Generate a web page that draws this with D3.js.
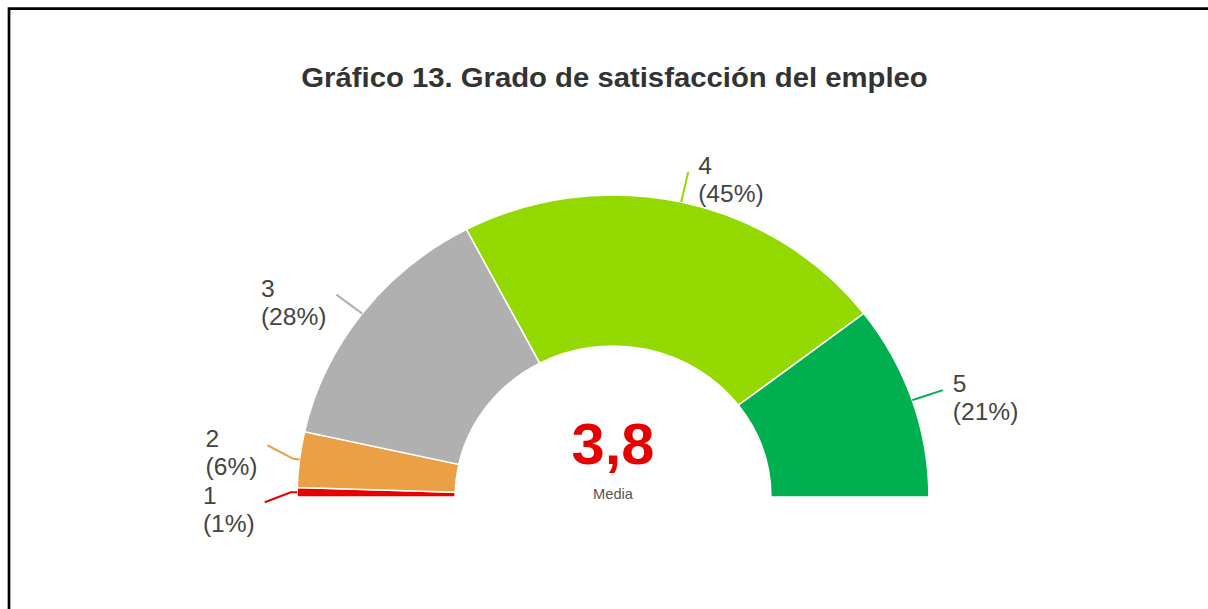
<!DOCTYPE html>
<html>
<head>
<meta charset="utf-8">
<script src="https://cdn.jsdelivr.net/npm/d3@7"></script>
<style>
  html, body { margin: 0; padding: 0; background: #fff; }
  svg { display: block; }
  text { font-family: "Liberation Sans", Arial, sans-serif; }
</style>
</head>
<body>
<svg id="chart" width="1208" height="609"></svg>
<script>
// ---- data ----
const title = "Gráfico 13. Grado de satisfacción del empleo";
const categories = ["1", "2", "3", "4", "5"];
const values = [1, 6, 28, 45, 21];
const meanValue = "3,8";
const meanLabel = "Media";
const colors = ["#e60000", "#eba046", "#b0b0b0", "#93d900", "#00b050"];

// ---- layout ----
const W = 1208, H = 609;
const cx = 613, cy = 497;
const stretchX = 1.046;
const R = 302, r = 151;

const svg = d3.select("#chart");

// frame (top and left rules)
svg.append("path")
  .attr("d", `M9,${H} V8.7 H${W}`)
  .attr("fill", "none")
  .attr("stroke", "#000")
  .attr("stroke-width", 2.7);

const g = svg.append("g")
  .attr("transform", `translate(${cx},${cy}) scale(${stretchX},1)`);

// title
g.append("text")
  .attr("x", 1.5 / stretchX)
  .attr("y", 87 - cy)
  .attr("text-anchor", "middle")
  .attr("font-size", 28)
  .attr("font-weight", "bold")
  .attr("fill", "#333")
  .text(title);

const total = d3.sum(values);
const pie = d3.pie().sort(null).value(d => d.v)
  .startAngle(-Math.PI / 2).endAngle(Math.PI / 2);
const arc = d3.arc().innerRadius(r).outerRadius(R);
const data = pie(categories.map((c, i) => ({ c, v: values[i], color: colors[i] })));

g.selectAll("path.slice")
  .data(data)
  .join("path")
  .attr("class", "slice")
  .attr("d", arc)
  .attr("fill", d => d.data.color)
  .attr("stroke", "#fff")
  .attr("stroke-width", 1.5)
  .attr("vector-effect", "non-scaling-stroke");

// labels
const pt = (rad, a) => [rad * Math.sin(a), -rad * Math.cos(a)];
const labels = data.map(d => {
  const a = (d.startAngle + d.endAngle) / 2;
  const end = pt(R + 31, a);
  return {
    d, a,
    side: Math.sin(a) < 0 ? "left" : "right",
    p0: pt(R, a), p1: pt(R + 6, a),
    ex: end[0], ey: end[1]
  };
});

// simple collision relaxation per side
const minGap = 57;
["left", "right"].forEach(side => {
  const L = labels.filter(l => l.side === side).sort((a, b) => a.ey - b.ey);
  for (let it = 0; it < 100; it++) {
    let moved = false;
    for (let i = 0; i < L.length - 1; i++) {
      const gap = L[i + 1].ey - L[i].ey;
      if (gap < minGap) {
        const dlt = (minGap - gap) / 2;
        L[i].ey -= dlt; L[i + 1].ey += dlt; moved = true;
      }
    }
    if (!moved) break;
  }
});

g.selectAll("polyline.leader")
  .data(labels)
  .join("polyline")
  .attr("class", "leader")
  .attr("points", l => [l.p0, l.p1, [l.ex, l.ey]].map(p => p.join(",")).join(" "))
  .attr("fill", "none")
  .attr("stroke", l => l.d.data.color)
  .attr("stroke-width", 2)
  .attr("vector-effect", "non-scaling-stroke");

const fmt = v => Math.round(v / total * 100) + "%";
const lineH = 28, gapX = 9.5;

labels.forEach(l => {
  const t = g.append("text")
    .attr("font-size", 23.5)
    .attr("fill", "#444");
  const t1 = t.append("tspan").attr("y", l.ey + 2).text(l.d.data.c);
  const t2 = t.append("tspan").attr("y", l.ey + 2 + lineH).text("(" + fmt(l.d.data.v) + ")");
  let x;
  if (l.side === "right") {
    x = l.ex + gapX;
  } else {
    const w = Math.max(t1.node().getComputedTextLength(), t2.node().getComputedTextLength());
    x = l.ex - gapX - w;
  }
  t1.attr("x", x);
  t2.attr("x", x);
});

// center mean
g.append("text")
  .attr("x", 0)
  .attr("y", 464 - cy)
  .attr("text-anchor", "middle")
  .attr("font-size", 57)
  .attr("font-weight", "bold")
  .attr("fill", "#e60000")
  .text(meanValue);

g.append("text")
  .attr("x", 0)
  .attr("y", 499 - cy)
  .attr("text-anchor", "middle")
  .attr("font-size", 14)
  .attr("fill", "#555")
  .text(meanLabel);
</script>
</body>
</html>
